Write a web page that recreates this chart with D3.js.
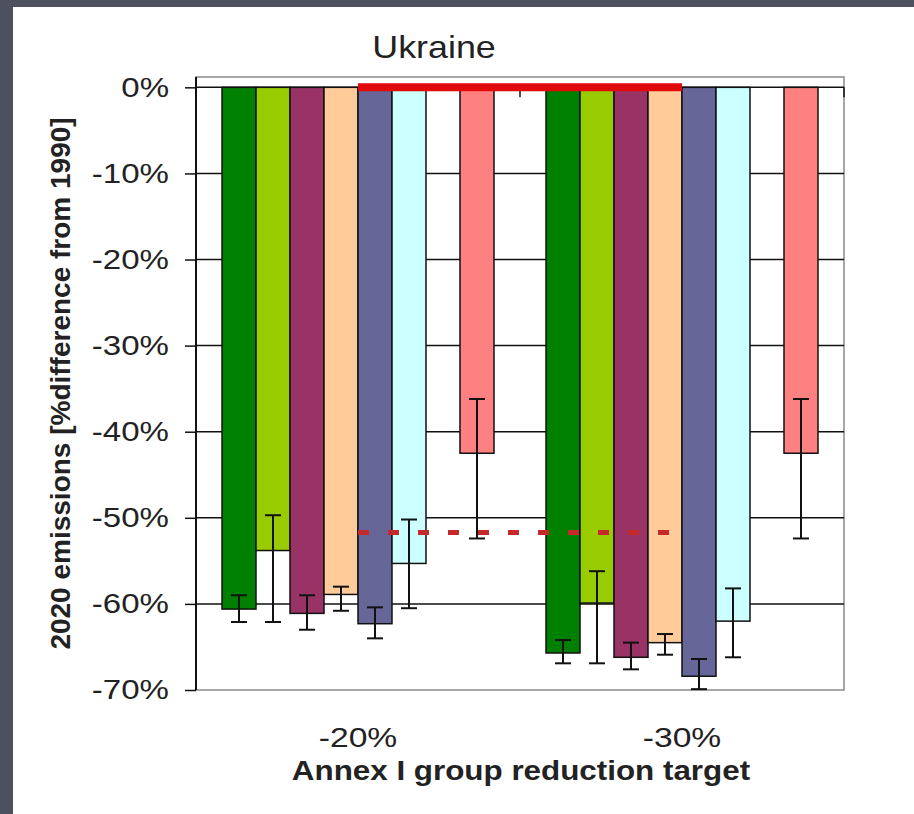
<!DOCTYPE html>
<html>
<head>
<meta charset="utf-8">
<script src="https://cdn.jsdelivr.net/npm/d3@7"></script>
<style>
  html, body { margin: 0; padding: 0; background: #4d505e; }
  svg { display: block; }
  text { font-family: "Liberation Sans", Arial, sans-serif; }
</style>
</head>
<body>
<svg id="chart" width="914" height="814"></svg>
<script>
// ---------------- data ----------------
const chartTitle = "Ukraine";
const categories = ["-20%", "-30%"];
const seriesNames = ["Approach 1", "Approach 2", "Approach 3", "Approach 4",
                     "Approach 5", "Approach 6", "Approach 7", "Approach 8"];
const seriesColors = ["#008000", "#99cc00", "#993366", "#ffcc99",
                      "#666699", "#ccffff", "#ffffff", "#ff8080"];
// bar values per category (% difference from 1990), null = no bar
const values20 = [-60.6, -53.8, -61.1, -58.9, -62.3, -55.3, null, -42.5];
const values30 = [-65.7, -59.9, -66.2, -64.5, -68.4, -62.0, null, -42.5];
// error bar ranges
const errLow20  = [-62.1, -62.1, -63.0, -60.8, -64.0, -60.5, null, -52.4];
const errHigh20 = [-59.0, -49.7, -59.0, -58.0, -60.4, -50.2, null, -36.2];
const errLow30  = [-66.9, -66.9, -67.6, -65.9, -69.9, -66.2, null, -52.4];
const errHigh30 = [-64.2, -56.2, -64.5, -63.5, -66.4, -58.2, null, -36.2];
// reference lines
const solidLineValues  = [0, 0];
const dashedLineValues = [-51.7, -51.7];
const yTickValues = [0, -10, -20, -30, -40, -50, -60, -70];
const yAxisTitle = "2020 emissions [%difference from 1990]";
const xAxisTitle = "Annex I group reduction target";

// --------------- layout ---------------
const svg = d3.select("#chart");
const plot = { left: 196, right: 844, top: 77, bottom: 690 };

svg.append("rect").attr("x", 13).attr("y", 7).attr("width", 901).attr("height", 807)
  .attr("fill", "#ffffff");

const x0 = d3.scaleBand().domain(categories).range([plot.left, plot.right])
  .paddingInner(0).paddingOuter(0);
const x1 = d3.scaleBand().domain(seriesNames).range([0, x0.bandwidth()])
  .paddingInner(0).paddingOuter(0.765);
const y = d3.scaleLinear().domain([-70, 1.2]).range([plot.bottom, plot.top]);

const barTable = [
  { cat: categories[0], vals: values20, lo: errLow20, hi: errHigh20 },
  { cat: categories[1], vals: values30, lo: errLow30, hi: errHigh30 }
];

// horizontal stretch helper (reference text is slightly widened)
function stretch(sel, factor) {
  sel.each(function () {
    const len = this.getComputedTextLength();
    d3.select(this).attr("textLength", len * factor).attr("lengthAdjust", "spacingAndGlyphs");
  });
}

// plot frame
svg.append("rect")
  .attr("x", plot.left).attr("y", plot.top)
  .attr("width", plot.right - plot.left).attr("height", plot.bottom - plot.top)
  .attr("fill", "none").attr("stroke", "#8a8a8a").attr("stroke-width", 1.5);

// gridlines
svg.append("g").selectAll("line")
  .data(yTickValues.filter(v => v < 0 && v > -70))
  .join("line")
  .attr("x1", plot.left).attr("x2", plot.right)
  .attr("y1", d => y(d)).attr("y2", d => y(d))
  .attr("stroke", "#111").attr("stroke-width", 1.5);

// bars
const groups = svg.append("g").selectAll("g")
  .data(barTable).join("g")
  .attr("transform", d => `translate(${x0(d.cat)},0)`);

groups.selectAll("rect")
  .data(d => d.vals.map((v, i) => ({ v, i })).filter(e => e.v !== null))
  .join("rect")
  .attr("x", e => x1(seriesNames[e.i]))
  .attr("y", y(0))
  .attr("width", x1.bandwidth())
  .attr("height", e => y(e.v) - y(0))
  .attr("fill", e => seriesColors[e.i])
  .attr("stroke", "#111").attr("stroke-width", 1.5);

// category axis line at 0 with ticks between categories
svg.append("line")
  .attr("x1", plot.left).attr("x2", plot.right)
  .attr("y1", y(0)).attr("y2", y(0))
  .attr("stroke", "#111").attr("stroke-width", 1.5);
const catEdges = categories.map(c => x0(c)).concat([x0(categories[categories.length - 1]) + x0.bandwidth()]);
svg.append("g").selectAll("line").data(catEdges).join("line")
  .attr("x1", d => d).attr("x2", d => d)
  .attr("y1", y(0)).attr("y2", y(0) + 10)
  .attr("stroke", "#111").attr("stroke-width", 1.5);

// red lines
const lineGen = vals => d3.line()
  .x((d, i) => x0(categories[i]) + x0.bandwidth() / 2)
  .y(d => y(d))(vals);
svg.append("path").attr("d", lineGen(solidLineValues))
  .attr("fill", "none").attr("stroke", "#e00a0a").attr("stroke-width", 8);
svg.append("path").attr("d", lineGen(dashedLineValues))
  .attr("fill", "none").attr("stroke", "#c42a2a").attr("stroke-width", 5)
  .attr("stroke-dasharray", "11,19");

// error bars
const errData = [];
barTable.forEach(g => g.vals.forEach((v, i) => {
  if (v !== null) errData.push({ cx: x0(g.cat) + x1(seriesNames[i]) + x1.bandwidth() / 2, lo: g.lo[i], hi: g.hi[i] });
}));
const eb = svg.append("g").attr("stroke", "#111").attr("stroke-width", 2);
eb.selectAll(".v").data(errData).join("line")
  .attr("x1", d => d.cx).attr("x2", d => d.cx)
  .attr("y1", d => y(d.lo)).attr("y2", d => y(d.hi));
eb.selectAll(".lo").data(errData).join("line").attr("class", "lo")
  .attr("x1", d => d.cx - 8).attr("x2", d => d.cx + 8)
  .attr("y1", d => y(d.lo)).attr("y2", d => y(d.lo));
eb.selectAll(".hi").data(errData).join("line").attr("class", "hi")
  .attr("x1", d => d.cx - 8).attr("x2", d => d.cx + 8)
  .attr("y1", d => y(d.hi)).attr("y2", d => y(d.hi));

// y axis
const yAxis = svg.append("g").attr("transform", `translate(${plot.left},0)`)
  .call(d3.axisLeft(y).tickValues(yTickValues).tickSize(11).tickSizeOuter(0)
    .tickPadding(16).tickFormat(d => d + "%"));
yAxis.select(".domain").attr("stroke", "#111").attr("stroke-width", 2)
  .attr("d", `M0,${plot.top}V${plot.bottom}`);
yAxis.selectAll(".tick line").attr("stroke", "#111").attr("stroke-width", 1.5);
yAxis.selectAll(".tick text").attr("font-size", 28).attr("fill", "#222")
  .style("font-family", "'Liberation Sans', Arial, sans-serif");
stretch(yAxis.selectAll(".tick text"), 1.18);

// x axis labels at bottom
const xAxis = svg.append("g").attr("transform", `translate(0,${plot.bottom})`)
  .call(d3.axisBottom(x0).tickSize(0).tickPadding(37));
xAxis.select(".domain").remove();
xAxis.selectAll(".tick text").attr("font-size", 28).attr("fill", "#222")
  .style("font-family", "'Liberation Sans', Arial, sans-serif");
stretch(xAxis.selectAll(".tick text"), 1.2);

// titles
const t = svg.append("text").attr("x", 434).attr("y", 58).attr("text-anchor", "middle")
  .attr("font-size", 32).attr("fill", "#222").text(chartTitle);
stretch(t, 1.12);
const xt = svg.append("text").attr("x", 521).attr("y", 780).attr("text-anchor", "middle")
  .attr("font-size", 28).attr("font-weight", "bold").attr("fill", "#222").text(xAxisTitle);
stretch(xt, 1.12);
svg.append("text").attr("transform", `translate(70,${(plot.top + plot.bottom) / 2}) rotate(-90)`)
  .attr("text-anchor", "middle")
  .attr("font-size", 28).attr("font-weight", "bold").attr("fill", "#222").text(yAxisTitle);
</script>
</body>
</html>
